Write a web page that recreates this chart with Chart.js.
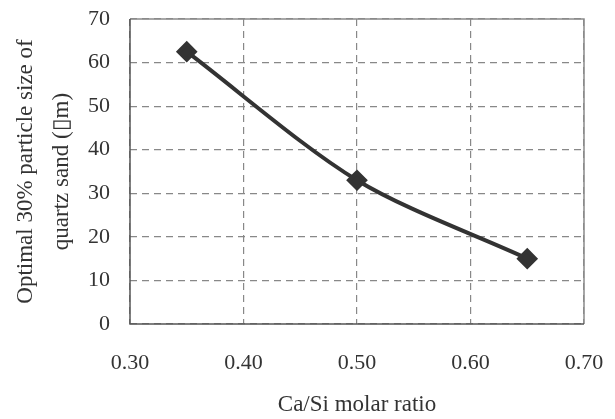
<!DOCTYPE html>
<html>
<head>
<meta charset="utf-8">
<script src="https://cdn.jsdelivr.net/npm/chart.js@4"></script>
<style>
  html, body { margin: 0; padding: 0; background: #fff; }
  #wrap { width: 615px; height: 419px; }
</style>
</head>
<body>
<div id="wrap"><canvas id="chart"></canvas></div>
<script>
// Data
const caSiRatio = [0.35, 0.50, 0.65];
const particleSize = [62.5, 33, 15];

const xMin = 0.30, xMax = 0.70, xStep = 0.10;
const yMin = 0, yMax = 70, yStep = 10;

const points = caSiRatio.map((x, i) => ({ x: x, y: particleSize[i] }));

// Draws the box around the plot area
const frame = {
  id: 'frame',
  afterDatasetsDraw(chart) {
    const a = chart.chartArea;
    const ctx = chart.ctx;
    ctx.save();
    ctx.lineWidth = 1.5;
    ctx.strokeStyle = '#8a8a8a';
    ctx.beginPath();
    ctx.moveTo(a.left, a.top);
    ctx.lineTo(a.right, a.top);
    ctx.lineTo(a.right, a.bottom);
    ctx.stroke();
    ctx.strokeStyle = '#555';
    ctx.beginPath();
    ctx.moveTo(a.left, a.top);
    ctx.lineTo(a.left, a.bottom);
    ctx.lineTo(a.right, a.bottom);
    ctx.stroke();
    ctx.restore();
  }
};

const family = '"Liberation Serif", "Times New Roman", serif';
const tickFont = { family: family, size: 22 };
const titleFont = { family: family, size: 23 };

new Chart(document.getElementById('chart'), {
  type: 'line',
  data: {
    datasets: [{
      data: points,
      borderColor: '#333',
      backgroundColor: '#333',
      borderWidth: 4,
      tension: 0.3,
      pointStyle: 'rectRot',
      pointRadius: 8,
      pointHoverRadius: 8,
      fill: false
    }]
  },
  options: {
    responsive: true,
    maintainAspectRatio: false,
    animation: false,
    layout: { padding: { top: 19, right: 31, bottom: 0, left: 0 } },
    plugins: {
      legend: { display: false },
      tooltip: { enabled: false }
    },
    scales: {
      x: {
        type: 'linear',
        min: xMin,
        max: xMax,
        afterFit: s => { s.height = 95; s.paddingLeft = 0; s.paddingRight = 0; },
        ticks: {
          stepSize: xStep,
          color: '#333',
          font: tickFont,
          padding: 26,
          maxRotation: 0,
          callback: v => v.toFixed(2)
        },
        grid: { color: '#888', lineWidth: 1.2, drawTicks: false },
        border: { display: false, dash: [7, 5] },
        title: {
          display: true,
          text: 'Ca/Si molar ratio',
          color: '#333',
          font: titleFont,
          padding: { top: 0, bottom: 0 }
        }
      },
      y: {
        min: yMin,
        max: yMax,
        afterFit: s => { s.width = 130; s.paddingTop = 0; s.paddingBottom = 0; },
        ticks: {
          stepSize: yStep,
          color: '#333',
          font: tickFont,
          padding: 20
        },
        grid: { color: '#888', lineWidth: 1.2, drawTicks: false },
        border: { display: false, dash: [7, 5] },
        title: {
          display: true,
          text: ['Optimal 30% particle size of', 'quartz sand (\u25AFm)'],
          color: '#333',
          font: { family: family, size: 23, lineHeight: 1.55 },
          padding: { top: 8, bottom: 0 }
        }
      }
    }
  },
  plugins: [frame]
});
</script>
</body>
</html>
